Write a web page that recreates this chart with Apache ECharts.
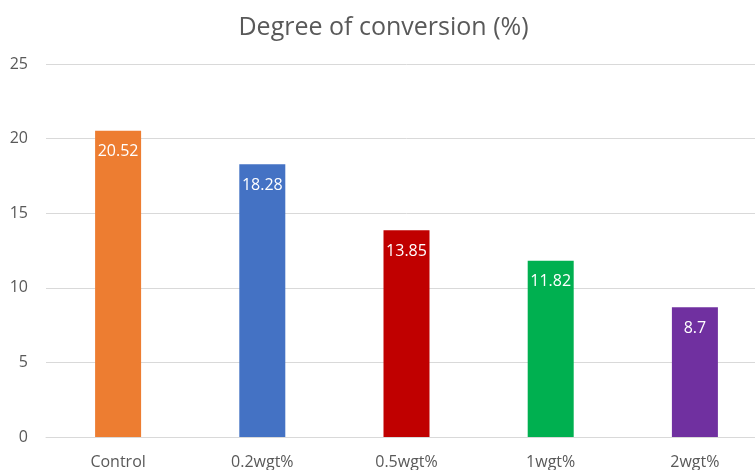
<!DOCTYPE html>
<html>
<head>
<meta charset="utf-8">
<script src="https://cdn.jsdelivr.net/npm/echarts@6/dist/echarts.min.js"></script>
<style>
  html, body { margin: 0; padding: 0; background: #fff; overflow: hidden; }
  /* chart is slightly wider than the window; the right edge is clipped */
  #chart { width: 767px; height: 470px; }
</style>
</head>
<body>
<div id="chart"></div>
<script>
// Degree of conversion by filler loading
const categories = ['Control', '0.2wgt%', '0.5wgt%', '1wgt%', '2wgt%'];
const conversion = [20.52, 18.28, 13.85, 11.82, 8.7];
const barColors = ['#ED7D31', '#4472C4', '#C00000', '#00B050', '#7030A0'];
const yTicks = { min: 0, max: 25, interval: 5 };

const font = '"Open Sans", "Liberation Sans", sans-serif';
const chart = echarts.init(document.getElementById('chart'), null, { renderer: 'canvas' });

chart.setOption({
  animation: false,
  backgroundColor: '#ffffff',
  title: {
    text: 'Degree of conversion (%)',
    left: 'center',
    top: 10,
    textStyle: { fontFamily: font, fontSize: 25, fontWeight: 'normal', color: '#595959' }
  },
  grid: { left: 46, right: 0, top: 64, bottom: 30.5, containLabel: false },
  xAxis: {
    type: 'category',
    data: categories,
    axisLine: { show: true, lineStyle: { color: '#d9d9d9', width: 1 } },
    axisTick: { show: false },
    axisLabel: { color: '#595959', fontFamily: font, fontSize: 16, margin: 17 }
  },
  yAxis: {
    type: 'value',
    min: yTicks.min,
    max: yTicks.max,
    interval: yTicks.interval,
    axisLine: { show: false },
    axisTick: { show: false },
    splitLine: { lineStyle: { color: '#d9d9d9', width: 1 } },
    axisLabel: { color: '#595959', fontFamily: font, fontSize: 16, margin: 18 }
  },
  series: [{
    type: 'bar',
    data: conversion.map((v, i) => ({ value: v, itemStyle: { color: barColors[i] } })),
    barWidth: 46,
    label: {
      show: true,
      position: 'insideTop',
      distance: 13,
      color: '#ffffff',
      fontFamily: font,
      fontSize: 16
    }
  }]
});
</script>
</body>
</html>
